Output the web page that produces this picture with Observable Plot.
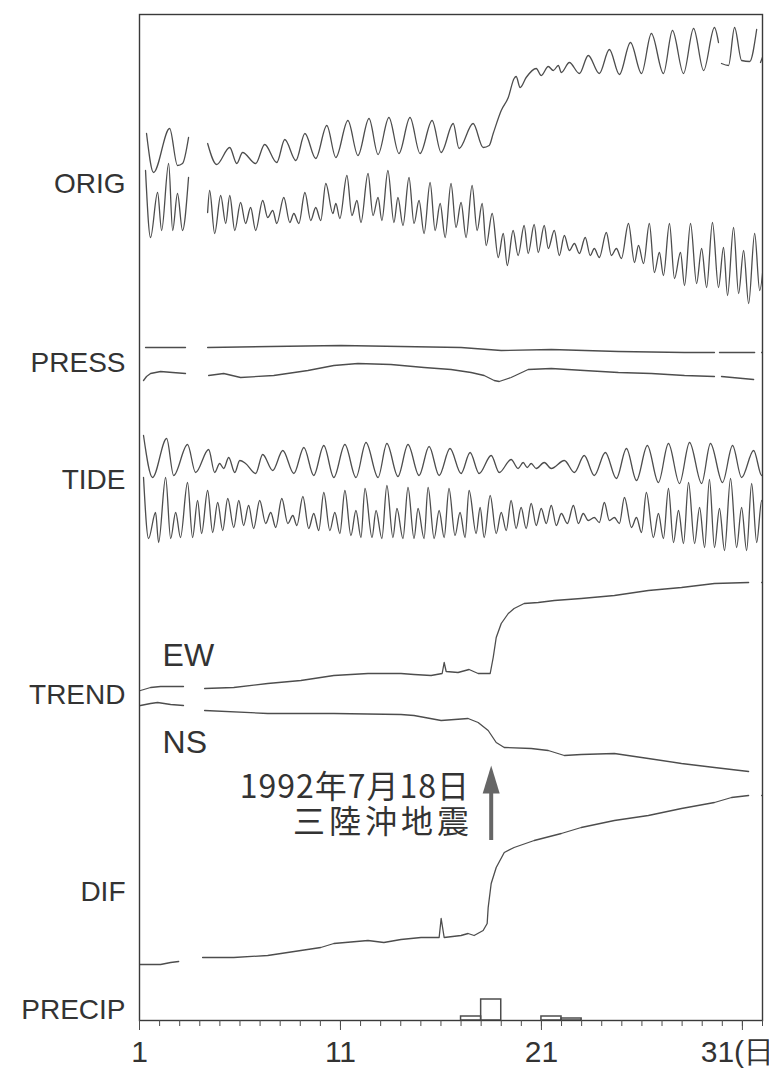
<!DOCTYPE html>
<html>
<head>
<meta charset="utf-8">
<script src="https://cdn.jsdelivr.net/npm/d3@7"></script>
<script src="https://cdn.jsdelivr.net/npm/@observablehq/plot@0.6"></script>
<style>
  html, body { margin: 0; padding: 0; background: #fff; overflow: hidden; }
  #chart svg { display: block; }
</style>
</head>
<body>
<div id="chart"></div>
<script>
// Borehole tiltmeter record, July 1992 (day of month on x).
// Each trace is a list of [day, reading]; readings are relative to the trace's own zero line.
// A null reading marks a break in the record.

const origEW = [
  [1.35,17],[1.70,-22],[2.50,22],[2.89,-15],[3.14,-13],[3.44,13],[3.8,null],
  [4.39,7],[4.84,-14],[5.49,3],[5.84,-13],[6.13,-2],[6.78,-13],[7.23,6],[7.83,-12],[8.23,11],[8.78,-10],
  [9.23,17],[9.77,-8],[10.32,25],[10.77,-7],[11.37,30],[11.87,-5],[12.42,32],[12.87,-4],[13.41,33],[13.91,-3],
  [14.46,33],[14.96,-3],[15.56,30],[16.01,-2],[16.61,27],[16.90,2],[17.60,27],[18.10,3],[18.40,5],[18.60,17],
  [19.00,40],[19.35,53],[19.64,72],[19.74,74],[19.94,63],[20.24,73],[20.74,82],[20.99,75],[21.34,84],[21.59,80],
  [21.84,85],[21.99,78],[22.39,88],[22.89,77],[23.33,95],[23.88,77],[24.38,101],[24.88,76],[25.43,108],[25.98,77],
  [26.47,117],[27.07,77],[27.52,120],[28.07,77],[28.57,122],[29.07,80],[29.61,123],[29.81,108],[29.9,null],
  [29.96,87],[30.31,85],[30.61,123],[30.96,90],[31.36,89],[31.71,121],[31.8,null],
  [31.9,88],[32.05,96]
];

const origNS = [
  [1.30,50],[1.55,-17],[1.90,28],[2.10,-10],[2.45,57],[2.65,-10],[2.89,27],[3.14,-10],[3.44,43],[3.8,null],
  [4.39,8],[4.49,30],[4.74,-13],[5.04,25],[5.29,-3],[5.49,25],[5.74,-10],[6.03,18],[6.28,-3],[6.53,13],[6.78,-10],
  [7.13,20],[7.38,3],[7.63,10],[7.83,-3],[8.18,23],[8.48,-2],[8.68,7],[8.93,-3],[9.23,28],[9.52,0],[9.77,13],
  [10.02,0],[10.27,37],[10.62,7],[10.77,17],[10.97,2],[11.32,45],[11.57,5],[11.82,20],[12.02,-2],[12.37,47],
  [12.62,5],[12.87,23],[13.06,0],[13.36,50],[13.66,-2],[13.86,23],[14.11,-5],[14.41,43],[14.66,-3],[14.91,20],
  [15.16,-13],[15.46,38],[15.71,-10],[15.96,17],[16.21,-17],[16.50,37],[16.75,-7],[17.00,18],[17.25,-17],
  [17.55,35],[17.80,-10],[18.05,17],[18.25,-25],[18.55,7],[18.85,-37],[19.10,-13],[19.30,-45],[19.59,-10],
  [19.84,-35],[20.14,-5],[20.34,-33],[20.64,-4],[20.84,-32],[21.14,-5],[21.34,-28],[21.64,-10],[21.89,-35],
  [22.14,-15],[22.39,-30],[22.64,-23],[22.89,-33],[23.18,-17],[23.43,-35],[23.63,-28],[23.88,-37],[24.23,-12],
  [24.48,-35],[24.73,-28],[24.98,-38],[25.33,-3],[25.63,-42],[25.83,-25],[26.08,-43],[26.37,-3],[26.62,-52],
  [26.87,-32],[27.07,-55],[27.37,-3],[27.62,-58],[27.92,-32],[28.12,-65],[28.42,-3],[28.72,-63],[28.97,-28],
  [29.22,-67],[29.51,-2],[29.81,-67],[30.06,-27],[30.26,-75],[30.56,-7],[30.81,-73],[31.06,-30],[31.31,-83],
  [31.61,-13],[31.86,-70],[32.11,-28]
];

const pressTop = [
  [1.30,0],[3.29,0],[3.8,null],
  [4.39,0],[7.53,1],[11.02,2],[14.01,1],[17.00,0],[19.00,-3],[21.49,-2],[24.83,-4],[28.12,-5],[29.61,-5],[29.7,null],
  [29.86,-5],[31.61,-5],[31.8,null],
  [31.96,-5],[32.2,-4]
];

const pressBottom = [
  [1.20,-8],[1.35,-4],[1.55,-1],[2.05,1],[2.65,0],[3.29,-1],[3.8,null],
  [4.44,-3],[5.19,-1],[6.03,-5],[7.68,-3],[9.38,2],[10.67,7],[11.87,9],[13.51,8],[15.16,5],[16.50,3],[17.50,0],
  [18.15,-3],[18.65,-8],[18.90,-9],[19.49,-5],[20.34,3],[21.49,4],[23.13,2],[24.83,0],[26.47,-1],[28.12,-3],
  [29.61,-4],[29.8,null],
  [29.96,-4],[31.56,-7],[31.8,null],
  [32.06,-5],[32.2,-5]
];

const tideEW = [
  [1.20,25],[1.65,-17],[2.35,22],[2.70,-15],[3.39,16],[3.79,-12],[4.44,11],[4.74,-12],[4.99,-3],[5.19,-8],
  [5.44,3],[5.74,-12],[5.99,0],[6.28,-3],[6.78,-13],[7.13,6],[7.63,-10],[8.13,10],[8.68,-13],[9.18,13],
  [9.67,-15],[10.17,15],[10.67,-17],[11.22,16],[11.77,-17],[12.27,18],[12.87,-17],[13.31,17],[13.86,-16],
  [14.36,16],[14.91,-15],[15.41,14],[15.91,-15],[16.45,12],[17.00,-13],[17.45,8],[17.90,-13],[18.50,5],
  [18.90,-12],[19.49,1],[19.84,-8],[20.09,-2],[20.29,-7],[20.49,-3],[20.74,-8],[21.14,-2],[21.49,-8],[22.14,0],
  [22.64,-12],[23.13,5],[23.63,-15],[24.18,8],[24.73,-18],[25.23,12],[25.73,-20],[26.27,15],[26.82,-22],
  [27.32,17],[27.87,-23],[28.37,18],[28.97,-23],[29.41,17],[30.01,-22],[30.51,15],[30.96,-17],[31.56,10],
  [31.96,-15],[32.31,-14]
];

const tideNS = [
  [1.20,38],[1.45,-23],[1.80,3],[1.95,-27],[2.30,38],[2.55,-23],[2.80,3],[3.04,-22],[3.39,33],[3.64,-22],
  [3.89,15],[4.09,-18],[4.39,25],[4.64,-17],[4.89,13],[5.14,-15],[5.39,17],[5.69,-12],[5.94,15],[6.18,-10],
  [6.43,10],[6.68,-13],[6.98,15],[7.28,-8],[7.53,3],[7.78,-12],[8.08,17],[8.38,-8],[8.63,0],[8.83,-10],
  [9.13,19],[9.42,-13],[9.67,2],[9.92,-15],[10.17,23],[10.47,-15],[10.72,3],[10.97,-18],[11.22,25],[11.52,-20],
  [11.77,5],[12.02,-22],[12.22,27],[12.57,-22],[12.77,5],[13.06,-23],[13.31,30],[13.61,-22],[13.81,7],
  [14.11,-23],[14.36,28],[14.66,-23],[14.86,7],[15.16,-23],[15.36,28],[15.66,-23],[15.91,5],[16.16,-22],
  [16.40,27],[16.70,-20],[16.95,3],[17.20,-22],[17.40,25],[17.75,-18],[17.95,8],[18.15,-22],[18.45,20],
  [18.75,-18],[19.00,3],[19.25,-15],[19.49,15],[19.74,-13],[19.99,8],[20.24,-13],[20.49,12],[20.74,-10],
  [20.99,7],[21.24,-8],[21.49,10],[21.74,-10],[21.99,2],[22.29,-8],[22.59,10],[22.84,-8],[23.08,2],[23.33,-5],
  [23.63,-2],[23.88,-7],[24.13,13],[24.38,-5],[24.63,-2],[24.88,-8],[25.13,18],[25.48,-12],[25.73,-2],
  [25.98,-17],[26.22,23],[26.57,-22],[26.82,2],[27.07,-23],[27.32,27],[27.57,-27],[27.82,5],[28.07,-28],
  [28.32,33],[28.62,-28],[28.87,8],[29.12,-32],[29.36,36],[29.61,-32],[29.86,7],[30.11,-35],[30.41,37],
  [30.71,-32],[30.96,8],[31.21,-35],[31.46,32],[31.71,-27],[31.96,15],[32.21,-22]
];

const trendEW = [
  [1.05,-10],[1.55,-7],[2.05,-6],[3.19,-6],[3.7,null],
  [4.24,-8],[5.69,-7],[7.38,-3],[9.03,0],[10.67,5],[12.37,7],[14.01,7],[14.66,6],[15.51,5],[16.06,7],
  [16.16,18],[16.26,9],[16.85,8],[17.40,11],[17.85,7],[18.45,7],[18.60,23],[18.75,43],[19.00,57],[19.35,67],
  [19.64,72],[20.14,77],[20.84,78],[21.64,80],[22.98,82],[24.63,85],[26.32,90],[27.97,93],[29.61,97],
  [31.31,98],[31.6,null],
  [31.96,98],[32.2,98]
];

const trendNS = [
  [1.05,5],[1.55,7],[1.90,8],[2.55,6],[3.19,5],[3.7,null],
  [4.24,0],[7.38,-3],[10.67,-3],[14.01,-4],[14.66,-5],[16.01,-10],[17.35,-8],[17.85,-12],[18.35,-20],
  [18.75,-32],[19.15,-37],[20.49,-38],[21.34,-40],[22.14,-45],[22.98,-44],[24.63,-43],[26.32,-48],[27.97,-53],
  [29.61,-57],[31.31,-61],[31.6,null],
  [32.06,-61],[32.2,-61]
];

const dif = [
  [1.00,-14],[2.05,-14],[2.55,-12],[2.95,-11],[3.5,null],
  [4.14,-7],[5.69,-7],[7.38,-5],[9.03,0],[10.02,3],[10.67,7],[12.37,10],[13.16,8],[14.01,11],[15.01,13],
  [15.91,13],[16.01,32],[16.16,13],[17.00,15],[17.35,17],[17.65,15],[18.10,20],[18.30,27],[18.35,43],
  [18.50,67],[18.75,83],[19.15,98],[19.64,103],[20.64,110],[21.99,117],[22.98,123],[24.63,130],[26.32,135],
  [27.97,142],[29.61,148],[30.46,153],[31.31,155],[31.6,null],
  [31.96,155],[32.2,155]
];

// Daily precipitation (one bar per day, from the start of the day)
const precipDays = [17, 18, 21, 22];
const precipAmount = [4, 21, 4, 2];

// Row labels on the left and the two component labels
const panelNames = ["ORIG", "PRESS", "TIDE", "TREND", "DIF", "PRECIP"];
const componentNames = ["EW", "NS"];

// Day ticks along the bottom
const minorTicks = d3.range(1, 33);
const majorTicks = [1, 11, 21, 31];
const majorTickLabels = ["1", "11", "21", "31(日)"];

// Earthquake: 1992-07-18, off Sanriku
const quakeDay = 18.5;
const quakeText = ["1992年7月18日", "三陸沖地震"];

// ---- layout (vertical offsets of each trace and label, in chart units) ----
const traceBase = {
  origEW: 870, origNS: 800, pressTop: 673, pressBottom: 648,
  tideEW: 560, tideNS: 505, trendEW: 340, trendNS: 310, dif: 70
};
const traceData = { origEW, origNS, pressTop, pressBottom, tideEW, tideNS, trendEW, trendNS, dif };
const panelLevels = [836, 657, 540, 325, 128, 10];
const componentLevels = [365, 278];
const quakeTextLevel = 216;

const ink = "#4d4d4d";
const textInk = "#333";
const cjk = "'Noto Sans CJK JP', sans-serif";

const rows = (name) => traceData[name].map(([day, v]) => ({
  day,
  y: v == null ? NaN : traceBase[name] + v
}));

const wavy = ["origEW", "origNS", "tideEW", "tideNS"];
const smooth = ["pressTop", "pressBottom", "trendEW", "trendNS", "dif"];

const precipRows = precipDays.map((day, i) => ({ day, mm: precipAmount[i] }));
const panelRows = panelNames.map((name, i) => ({ name, level: panelLevels[i] }));
const componentRows = componentNames.map((name, i) => ({ name, level: componentLevels[i] }));

// Filled, elongated arrowhead
const arrowHead = {
  draw(context, size) {
    const s = Math.sqrt(size / Math.PI);
    context.moveTo(0, -1.4 * s);
    context.lineTo(0.85 * s, 1.4 * s);
    context.lineTo(-0.85 * s, 1.4 * s);
    context.closePath();
  }
};

const chart = Plot.plot({
  width: 769,
  height: 1068,
  marginLeft: 139,
  marginRight: 7,
  marginTop: 14,
  marginBottom: 48,
  style: { fontFamily: "'Liberation Sans', Arial, sans-serif", fontSize: "30px", color: textInk, background: "#fff", overflow: "visible" },
  x: { domain: [1, 32], label: null },
  y: { domain: [0, 1006], axis: null },
  marks: [
    ...wavy.map(name => Plot.line(rows(name), { x: "day", y: "y", curve: "monotone-x", stroke: ink, strokeWidth: 1.3, clip: true })),
    ...smooth.map(name => Plot.line(rows(name), { x: "day", y: "y", stroke: ink, strokeWidth: 1.3, clip: true })),
    Plot.rect(precipRows, { x1: "day", x2: d => d.day + 1, y1: 0, y2: "mm", stroke: ink, strokeWidth: 1.5, fill: "none" }),
    Plot.frame({ stroke: "#3a3a3a", strokeWidth: 1.4 }),
    Plot.axisX(minorTicks, { tickSize: 6, tickFormat: () => "", stroke: ink }),
    Plot.axisX(majorTicks, {
      tickSize: 10, tickPadding: 10, stroke: ink,
      tickFormat: d => majorTickLabels[majorTicks.indexOf(d)],
      fontSize: 30, fill: textInk
    }),
    Plot.text(panelRows, { x: () => 1, y: "level", text: "name", textAnchor: "end", dx: -14, fontSize: 28, fill: textInk }),
    Plot.text(componentRows, { x: () => 2.15, y: "level", text: "name", textAnchor: "start", fontSize: 32, fill: textInk }),
    // Two-line earthquake note, set as one block
    Plot.text([quakeText.join("\n")], {
      x: () => 17.4, y: () => quakeTextLevel, text: d => d,
      textAnchor: "end", lineAnchor: "middle", lineHeight: 1.07,
      fontSize: 32, fill: textInk, fontFamily: cjk
    }),
    Plot.ruleX([quakeDay], { x: d => d, y1: () => 180, y2: () => 230, stroke: "#666", strokeWidth: 4 }),
    Plot.dot([quakeDay], { x: d => d, y: () => 241, r: 10, symbol: arrowHead, fill: "#666", stroke: "none" })
  ]
});

// Spread the characters of the note slightly, as in the original lettering
d3.select(chart).selectAll("tspan")
  .filter(function () { return quakeText.includes(this.textContent); })
  .each(function () {
    const wide = this.textContent === quakeText[1];
    d3.select(this)
      .attr("letter-spacing", wide ? 4 : 1)
      .attr("dx", wide ? 4 : 1);
  });

document.getElementById("chart").appendChild(chart);
</script>
</body>
</html>
